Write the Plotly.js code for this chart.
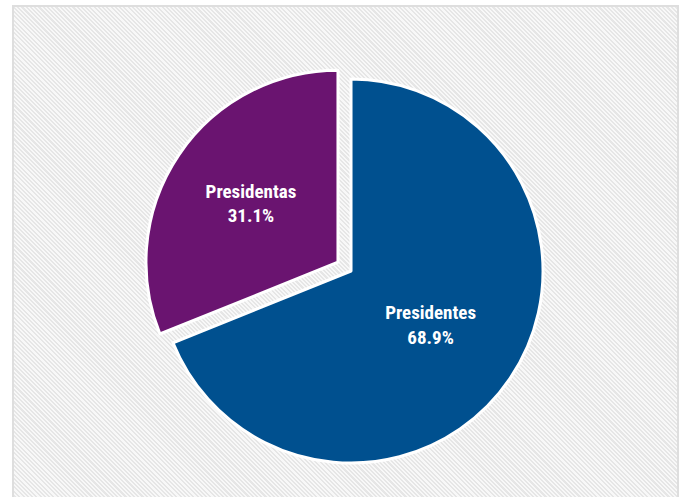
<!DOCTYPE html>
<html>
<head>
<meta charset="utf-8">
<script src="https://cdn.plot.ly/plotly-3.0.1.min.js"></script>
<style>
  html, body { margin: 0; padding: 0; background: #ffffff; }
  #wrap { position: relative; width: 681px; height: 497px; overflow: hidden; }
  #bg {
    position: absolute; left: 12px; top: 5px; width: 663px; height: 500px;
    border: 2px solid #dedede;
    background: repeating-linear-gradient(45deg, #f8f8f8 0px, #f8f8f8 1.5px, #e6e6e6 1.5px, #e6e6e6 3px);
  }
  #chart { position: absolute; left: 0; top: 0; width: 681px; height: 497px; }
</style>
</head>
<body>
<div id="wrap">
  <div id="bg"></div>
  <div id="chart"></div>
</div>
<script>
const labels = ["Presidentes", "Presidentas"];
const values = [68.9, 31.1];
const colors = ["#00508f", "#6a1470"];
const pulls = [0, 0.082];

const trace = {
  type: "pie",
  labels: labels,
  values: values,
  sort: false,
  direction: "clockwise",
  rotation: 0,
  pull: pulls,
  marker: { colors: colors, line: { color: "#ffffff", width: 3 } },
  texttemplate: "<b>%{label}</b><br><b>%{percent:.1%}</b>",
  textposition: "inside",
  insidetextorientation: "horizontal",
  textfont: { family: "Liberation Sans Narrow, Roboto Condensed, Arial Narrow, sans-serif", size: 19, color: "#ffffff" },
  hoverinfo: "none",
  domain: { x: [0.2104, 0.8205], y: [0.0367, 0.8727] },
  showlegend: false
};

const layout = {
  width: 681, height: 497,
  margin: { l: 0, r: 0, t: 0, b: 0 },
  paper_bgcolor: "rgba(0,0,0,0)",
  plot_bgcolor: "rgba(0,0,0,0)",
  showlegend: false
};

Plotly.newPlot("chart", [trace], layout, { displayModeBar: false, staticPlot: true });
</script>
</body>
</html>
